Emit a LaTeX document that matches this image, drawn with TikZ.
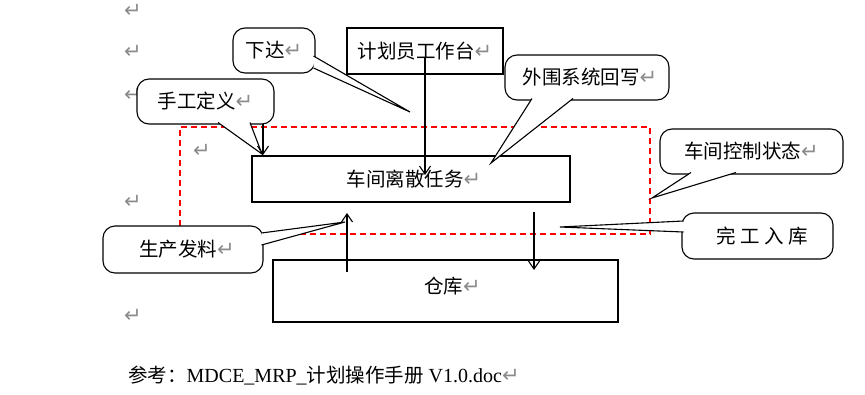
\documentclass[tikz,border=0pt]{standalone}
\usepackage{fontspec}
\setmainfont{Liberation Serif}
\newfontfamily\cjk{Noto Sans CJK SC}
\newfontfamily\djv{DejaVu Sans}
\usetikzlibrary{arrows.meta,calc}
\newcommand\retmark{{\color{gray!90}\djv\fontsize{21}{15}\selectfont ↵}}
\tikzset{
  ln/.style={line width=1.1pt, draw=black},
  callout/.style={ln, fill=white, rounded corners=12pt, inner sep=0pt, font=\cjk\fontsize{19.5}{19.5}\selectfont},
  boxnode/.style={ln, fill=white, inner sep=0pt, font=\cjk\fontsize{19.5}{19.5}\selectfont},
  wedgefill/.style={fill=white},
  arr/.style={ln, -{Straight Barb[length=8pt,width=11pt,line width=1.1pt]}},
  retnode/.style={inner sep=0pt, text=gray!90, font=\djv\fontsize{21}{21}\selectfont},
  ctrlbox/.style={draw=red, line width=1.1pt, dash pattern=on 6pt off 4pt, inner sep=0pt}
}
\begin{document}
\begin{tikzpicture}[x=1pt,y=-1pt]
\useasboundingbox (0,0) rectangle (865,394);
% paragraph marks
\node[retnode] (r1) at (133,11) {↵};
\node[retnode] (r2) at (133,52) {↵};
\node[retnode] (r3) at (133,95) {↵};
\node[retnode] (r4) at (202,151) {↵};
\node[retnode] (r5) at (133,202) {↵};
\node[retnode] (r6) at (133,316) {↵};
% dashed control region
\node[ctrlbox, minimum width=470pt, minimum height=107pt] (ctrl) at (415,180.5) {};
% boxes
\node[boxnode, minimum width=156pt, minimum height=46pt] (plan) at (425,51) {计划员工作台\retmark};
\node[boxnode, minimum width=318pt, minimum height=46pt] (task) at (411,179) {\hspace{6pt}车间离散任务\retmark};
\node[boxnode, minimum width=345pt, minimum height=62pt, text depth=0pt] (store) at (445.5,291) {\raisebox{12pt}{\hspace{14pt}仓库\retmark}};
% arrows
\coordinate (pa) at (425,57);
\coordinate (pb) at (425,175);
\draw[arr] (pa) -- (pb);
\coordinate (ua) at (347,272);
\coordinate (ub) at (347,213);
\draw[arr] (ua) -- (ub);
\coordinate (da) at (534,212);
\coordinate (db) at (534,270);
\draw[arr] (da) -- (db);
% callout: xiada
\node[callout, minimum width=82pt, minimum height=45pt] (xd) at (274,50.5) {下达\retmark};
\coordinate (xd1) at (313.5,56); \coordinate (xd2) at (313.5,68); \coordinate (xdt) at (410,112);
\fill[wedgefill] (xd1) -- (xdt) -- (xd2) -- cycle;
\draw[ln] (xd1) -- (xdt) -- (xd2);
% callout: shougong dingyi
\node[callout, minimum width=137pt, minimum height=45pt] (sg) at (205.5,101.5) {手工定义\retmark};
\coordinate (sg1) at (218,122.5); \coordinate (sg2) at (250,122.5); \coordinate (sgt) at (262,154);
\fill[wedgefill] (sg1) -- (sgt) -- (sg2) -- cycle;
\draw[ln] (sg1) -- (sgt) -- (sg2);
\coordinate (sga) at (263,124);
\coordinate (sgb) at (263,155);
\draw[arr] (sga) -- (sgb);
% callout: waiwei xitong huixie
\node[callout, minimum width=164pt, minimum height=45pt] (ww) at (587,77.5) {\hspace{6pt}外围系统回写\retmark};
\coordinate (ww1) at (532,98.5); \coordinate (ww2) at (573,98.5); \coordinate (wwt) at (491,163);
\fill[wedgefill] (ww1) -- (wwt) -- (ww2) -- cycle;
\draw[ln] (ww1) -- (wwt) -- (ww2);
% callout: chejian kongzhi zhuangtai
\node[callout, minimum width=183pt, minimum height=45pt] (cz) at (751.5,151.5) {车间控制状态\retmark};
\coordinate (cz1) at (691,172.5); \coordinate (cz2) at (736,172.5); \coordinate (czt) at (652,198);
\fill[wedgefill] (cz1) -- (czt) -- (cz2) -- cycle;
\draw[ln] (cz1) -- (czt) -- (cz2);
% callout: wangong ruku
\node[callout, minimum width=151pt, minimum height=46pt] (wg) at (757.5,236) {\hspace{10pt}完 工 入 库};
\coordinate (wg1) at (683.5,221); \coordinate (wg2) at (683.5,232); \coordinate (wgt) at (560,227);
\fill[wedgefill] (wg1) -- (wgt) -- (wg2) -- cycle;
\draw[ln] (wg1) -- (wgt) -- (wg2);
% callout: shengchan faliao
\node[callout, minimum width=160pt, minimum height=47pt] (sc) at (183,249.5) {\hspace{8pt}生产发料\retmark};
\coordinate (sc1) at (261.5,233); \coordinate (sc2) at (261.5,245); \coordinate (sct) at (345,222);
\fill[wedgefill] (sc1) -- (sct) -- (sc2) -- cycle;
\draw[ln] (sc1) -- (sct) -- (sc2);
% reference line
\node[anchor=base west, inner sep=0pt, font=\fontsize{20}{20}\selectfont] (ref) at (128,382)
  {{\cjk\fontsize{19.5}{19.5}\selectfont 参考：}MDCE\_MRP\_{\cjk\fontsize{19.5}{19.5}\selectfont 计划操作手册} V1.0.doc\retmark};
\end{tikzpicture}
\end{document}
